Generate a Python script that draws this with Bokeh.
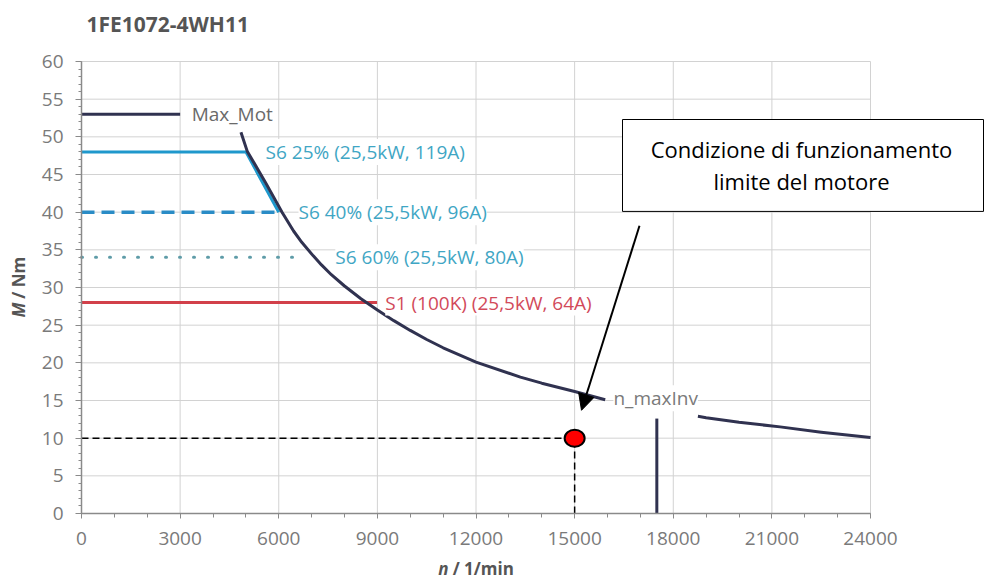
import math
from bokeh.plotting import figure
from bokeh.models import (Range1d, FixedTicker, Label, Arrow, NormalHead)
from bokeh.embed import file_html
from bokeh.resources import INLINE

# ---- characteristic curves of the 1FE1072-4WH11 motor (n in 1/min, M in Nm) ----
max_mot_speed_a = [0, 3000]
max_mot_torque_a = [53, 53]
max_mot_speed_b = [4850, 5040, 5600, 6100, 6450, 6700, 7050, 7300, 7600, 8000,
                   8500, 9000, 9500, 10000, 10500, 11000, 12000, 13350, 14000,
                   15000, 15930]
max_mot_torque_b = [50.6, 48.1, 43.9, 40.0, 37.5, 36.0, 34.2, 33.0, 31.7, 30.2,
                    28.5, 27.0, 25.6, 24.3, 23.1, 22.0, 20.1, 18.1, 17.3,
                    16.2, 15.1]
max_mot_speed_c = [18750, 19000, 20000, 21250, 22500, 24000]
max_mot_torque_c = [12.9, 12.7, 12.1, 11.5, 10.8, 10.1]

n_max_inv_speed = [17500, 17500]
n_max_inv_torque = [0, 12.6]

s6_25_speed = [0, 5000, 6000]
s6_25_torque = [48, 48, 40]
s6_40_speed = [0, 6100]
s6_40_torque = [40, 40]
s6_60_speed = [0, 6750]
s6_60_torque = [34, 34]
s1_speed = [0, 8990]
s1_torque = [28, 28]

# curve names and where they are written
curve_names = ["Max_Mot", "S6 25% (25,5kW, 119A)", "S6 40% (25,5kW, 96A)",
               "S6 60% (25,5kW, 80A)", "S1 (100K) (25,5kW, 64A)", "n_maxInv"]
curve_name_speed = [3350, 5600, 6600, 7720, 9240, 16180]
curve_name_torque = [53, 48, 40, 34, 28, 15.3]

# operating point under study
op_speed = 15000
op_torque = 10

# call-out box
note_lines = ["Condizione di funzionamento", "limite del motore"]
note_box_speed = [16456, 27437]
note_box_torque = [40.1, 52.3]
note_text_speed = 21900
note_text_torque = [48.45, 44.2]
arrow_from = (16973, 38.2)
arrow_to = (15209, 13.7)

# axes
x_ticks = [0, 3000, 6000, 9000, 12000, 15000, 18000, 21000, 24000]
x_minor = list(range(0, 24001, 1000))
y_ticks = [0, 5, 10, 15, 20, 25, 30, 35, 40, 45, 50, 55, 60]
y_minor = list(range(0, 61))

GRID = "#d2d2d2"
NAVY = "#303250"
CYAN = "#1f98cc"
BLUE = "#2a8cc6"
TEAL_DOT = "#5e9ca8"
RED = "#d2404a"
TEXT_GREY = "#6a6a6a"
LABEL_GREY = "#555555"

# the plotting frame covers the whole canvas; the axes sit at n = 0 and M = 0
p = figure(width=984, height=579, output_backend="svg", toolbar_location=None,
           title=None,
           x_range=Range1d(-2464, 27467), y_range=Range1d(-8.761, 68.097),
           min_border=0, background_fill_color="white",
           border_fill_color="white", outline_line_color=None)

p.xgrid.visible = False
p.ygrid.visible = False

# grid drawn only over the diagram area
p.segment(x0=x_ticks[1:], y0=0, x1=x_ticks[1:], y1=y_ticks[-1],
          line_color=GRID, line_width=1)
p.segment(x0=0, y0=y_ticks[1:], x1=x_ticks[-1], y1=y_ticks[1:],
          line_color=GRID, line_width=1)

# axes
for ax in (p.xaxis[0], p.yaxis[0]):
    ax.fixed_location = 0
    ax.axis_line_color = "#8a8a8a"
    ax.axis_line_width = 1.5
    ax.major_tick_line_color = "#8a8a8a"
    ax.minor_tick_line_color = "#8a8a8a"
    ax.major_label_text_font = "Open Sans"
    ax.major_label_text_font_size = "19px"
    ax.major_label_text_color = "#7a7a7a"
    ax.major_tick_in = 0
    ax.minor_tick_in = 0

p.xaxis.ticker = FixedTicker(ticks=x_ticks, minor_ticks=x_minor)
p.xaxis.bounds = (0, 24000)
p.xaxis.major_tick_out = 5
p.xaxis.minor_tick_out = 4
p.xaxis.major_label_standoff = 13

p.yaxis.ticker = FixedTicker(ticks=y_ticks, minor_ticks=y_minor)
p.yaxis.bounds = (0, 60)
p.yaxis.major_tick_out = 6
p.yaxis.minor_tick_out = 3
p.yaxis.major_label_standoff = 12

# title and axis titles (symbols in italics)
p.add_layout(Label(x=150, y=65.0, text="1FE1072-4WH11", text_font="Open Sans",
                   text_font_size="21px", text_font_style="bold",
                   text_color=LABEL_GREY, text_baseline="middle",
                   text_align="left"))
p.add_layout(Label(x=11163, y=-7.3, text="n", text_font="Open Sans",
                   text_font_size="17px", text_font_style="bold italic",
                   text_color=LABEL_GREY, text_baseline="middle",
                   text_align="right"))
p.add_layout(Label(x=11290, y=-7.3, text="/ 1/min", text_font="Open Sans",
                   text_font_size="17px", text_font_style="bold",
                   text_color=LABEL_GREY, text_baseline="middle",
                   text_align="left"))
p.add_layout(Label(x=-1916, y=28.0, text="M", angle=math.pi / 2,
                   text_font="Open Sans", text_font_size="17px",
                   text_font_style="bold italic", text_color=LABEL_GREY,
                   text_baseline="middle", text_align="right"))
p.add_layout(Label(x=-1916, y=28.5, text="/ Nm", angle=math.pi / 2,
                   text_font="Open Sans", text_font_size="17px",
                   text_font_style="bold", text_color=LABEL_GREY,
                   text_baseline="middle", text_align="left"))

# duty-cycle limit lines
p.line(s1_speed, s1_torque, line_color=RED, line_width=3)
p.line(s6_60_speed, s6_60_torque, line_color=TEAL_DOT, line_width=3,
       line_dash="1 13", line_cap="round")
p.line(s6_40_speed, s6_40_torque, line_color=BLUE, line_width=3.5,
       line_dash="13 7")
p.line(s6_25_speed, s6_25_torque, line_color=CYAN, line_width=3)

# maximum motor torque and inverter speed limit
p.line(max_mot_speed_a, max_mot_torque_a, line_color=NAVY, line_width=3)
p.line(max_mot_speed_b, max_mot_torque_b, line_color=NAVY, line_width=3,
       line_join="round")
p.line(max_mot_speed_c, max_mot_torque_c, line_color=NAVY, line_width=3,
       line_join="round")
p.line(n_max_inv_speed, n_max_inv_torque, line_color=NAVY, line_width=3)

name_colors = [TEXT_GREY, "#3fa6c4", "#3fa6c4", "#3fa6c4", "#d24a5a", "#7a7a7a"]
for txt, xs, ys, col in zip(curve_names, curve_name_speed, curve_name_torque,
                            name_colors):
    p.add_layout(Label(x=xs, y=ys, text=txt, text_color=col,
                       text_font="Open Sans", text_font_size="19px",
                       text_baseline="middle", text_align="left",
                       background_fill_color="white"))

# guide lines to the operating point
p.line([0, op_speed], [op_torque, op_torque], line_color="black",
       line_width=1.5, line_dash="7 4")
p.line([op_speed, op_speed], [0, op_torque], line_color="black",
       line_width=1.5, line_dash="7 4")
p.ellipse(x=[op_speed], y=[op_torque], width=20, height=17,
          width_units="screen", height_units="screen",
          fill_color="#ff0000", line_color="black", line_width=2)

# call-out
p.quad(left=[note_box_speed[0]], right=[note_box_speed[1]],
       bottom=[note_box_torque[0]], top=[note_box_torque[1]],
       fill_color="white", line_color="black", line_width=1)
p.text(x=[note_text_speed] * 2, y=note_text_torque, text=note_lines,
       text_align="center", text_baseline="middle", text_color="black",
       text_font_size="22px", text_font={"value": "Open Sans"})
p.add_layout(Arrow(x_start=arrow_from[0], y_start=arrow_from[1],
                   x_end=arrow_to[0], y_end=arrow_to[1],
                   line_color="black", line_width=2,
                   end=NormalHead(size=16, fill_color="black",
                                  line_color="black")))

open("out.html", "w").write(file_html(p, INLINE))
